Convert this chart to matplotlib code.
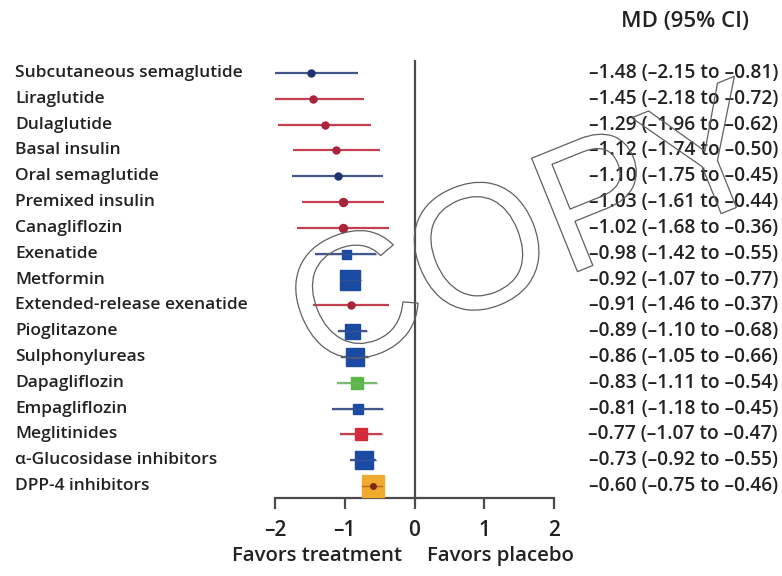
import matplotlib
matplotlib.use("Agg")
import matplotlib.pyplot as plt
import matplotlib.patheffects as pe

# ---------------------------------------------------------------------------
# DATA
# ---------------------------------------------------------------------------
treatments = ["Subcutaneous semaglutide", "Liraglutide", "Dulaglutide", "Basal insulin",
              "Oral semaglutide", "Premixed insulin", "Canagliflozin", "Exenatide",
              "Metformin", "Extended-release exenatide", "Pioglitazone", "Sulphonylureas",
              "Dapagliflozin", "Empagliflozin", "Meglitinides", "α-Glucosidase inhibitors",
              "DPP-4 inhibitors"]
md = [-1.48, -1.45, -1.29, -1.12, -1.10, -1.03, -1.02, -0.98, -0.92, -0.91,
      -0.89, -0.86, -0.83, -0.81, -0.77, -0.73, -0.60]
ci_low = [-2.15, -2.18, -1.96, -1.74, -1.75, -1.61, -1.68, -1.42, -1.07, -1.46,
          -1.10, -1.05, -1.11, -1.18, -1.07, -0.92, -0.75]
ci_high = [-0.81, -0.72, -0.62, -0.50, -0.45, -0.44, -0.36, -0.55, -0.77, -0.37,
           -0.68, -0.66, -0.54, -0.45, -0.47, -0.55, -0.46]
x_ticks = [-2, -1, 0, 1, 2]
x_tick_labels = ["–2", "–1", "0", "1", "2"]

# styling per row (group colour + marker size in px)
group = ["blue", "red", "red", "red", "blue", "red", "red", "blue", "blue", "red",
         "blue", "blue", "green", "blue", "red", "blue", "orange"]
marker_px = [7, 7, 7, 7, 7, 8, 8, 9, 20, 7, 15, 18, 12, 10, 12, 18, 22]

line_col = {"blue": "#44578a", "red": "#c2404f", "green": "#7cb96a", "orange": "#8a3a1e"}
face_col = {"blue": "#1b4aa3", "red": "#d42a3c", "green": "#5db64a", "orange": "#f0ab2e"}
dot_col = {"blue": "#1f3570", "red": "#a8243a"}

plt.rcParams["font.family"] = ["Open Sans", "DejaVu Sans"]
TXT = "#222222"

fig = plt.figure(figsize=(7.82, 5.76), dpi=100)
W, H = 782, 576
ax = fig.add_axes([275 / W, 1 - 498 / H, (554 - 275) / W, (498 - 60) / H])

n = len(treatments)
ys = [-i for i in range(n)]
ax.set_xlim(-2, 2)
ax.set_ylim(-(n - 1) - 12 / 25.81, 13 / 25.81)

px2pt = 72 / 100
for y, m, lo, hi, g, s in zip(ys, md, ci_low, ci_high, group, marker_px):
    ax.plot([lo, hi], [y, y], color=line_col[g], lw=1.6, solid_capstyle="butt", zorder=2)
    if s <= 8:
        ax.plot(m, y, "o", ms=s * px2pt, color=dot_col[g], mec=dot_col[g], zorder=3)
    else:
        ax.plot(m, y, "s", ms=s * px2pt, color=face_col[g], mec=face_col[g], zorder=3)
        ax.plot([lo, hi], [y, y], color=line_col[g], lw=1.0, alpha=0.6, zorder=4)
        if g == "orange":
            ax.plot(m, y, "o", ms=4, color="#7a2a10", zorder=5)

ax.axvline(0, color="#4a4a4a", lw=1.6, zorder=1)

for sp in ["top", "right", "left"]:
    ax.spines[sp].set_visible(False)
ax.spines["bottom"].set_color("#4a4a4a")
ax.spines["bottom"].set_linewidth(1.6)
ax.set_yticks([])
ax.set_xticks(x_ticks)
ax.set_xticklabels(x_tick_labels, fontsize=15, fontweight="semibold", color=TXT)
ax.tick_params(axis="x", direction="out", length=8, width=1.6, color="#4a4a4a", pad=8)

# treatment labels and MD column
for y, name, m, lo, hi in zip(ys, treatments, md, ci_low, ci_high):
    yf = ax.transData.transform((0, y))[1] / fig.dpi / 5.76
    fig.text(15 / W, yf, name, ha="left", va="center", fontsize=12.5,
             fontweight="semibold", color=TXT)
    s = f"{m:.2f} ({lo:.2f} to {hi:.2f})".replace("-", "–")
    fig.text(778 / W, yf, s, ha="right", va="center", fontsize=13.8,
             fontweight="semibold", color=TXT)

fig.text(685 / W, 1 - 22 / H, "MD (95% CI)", ha="center", va="center",
         fontsize=16, fontweight="semibold", color=TXT)
fig.text(317 / W, 1 - 556 / H, "Favors treatment", ha="center", va="center",
         fontsize=14.7, fontweight="semibold", color=TXT)
fig.text(500 / W, 1 - 556 / H, "Favors placebo", ha="center", va="center",
         fontsize=14.7, fontweight="semibold", color=TXT)

# watermark
fig.text(533 / W, 1 - 240 / H, "COPY", ha="center", va="center", rotation=22,
         rotation_mode="anchor", fontsize=128, family="Liberation Sans", color="none",
         path_effects=[pe.Stroke(linewidth=0.9, foreground="#606060")], zorder=10)

fig.savefig("out.png", dpi=100, facecolor="white")
